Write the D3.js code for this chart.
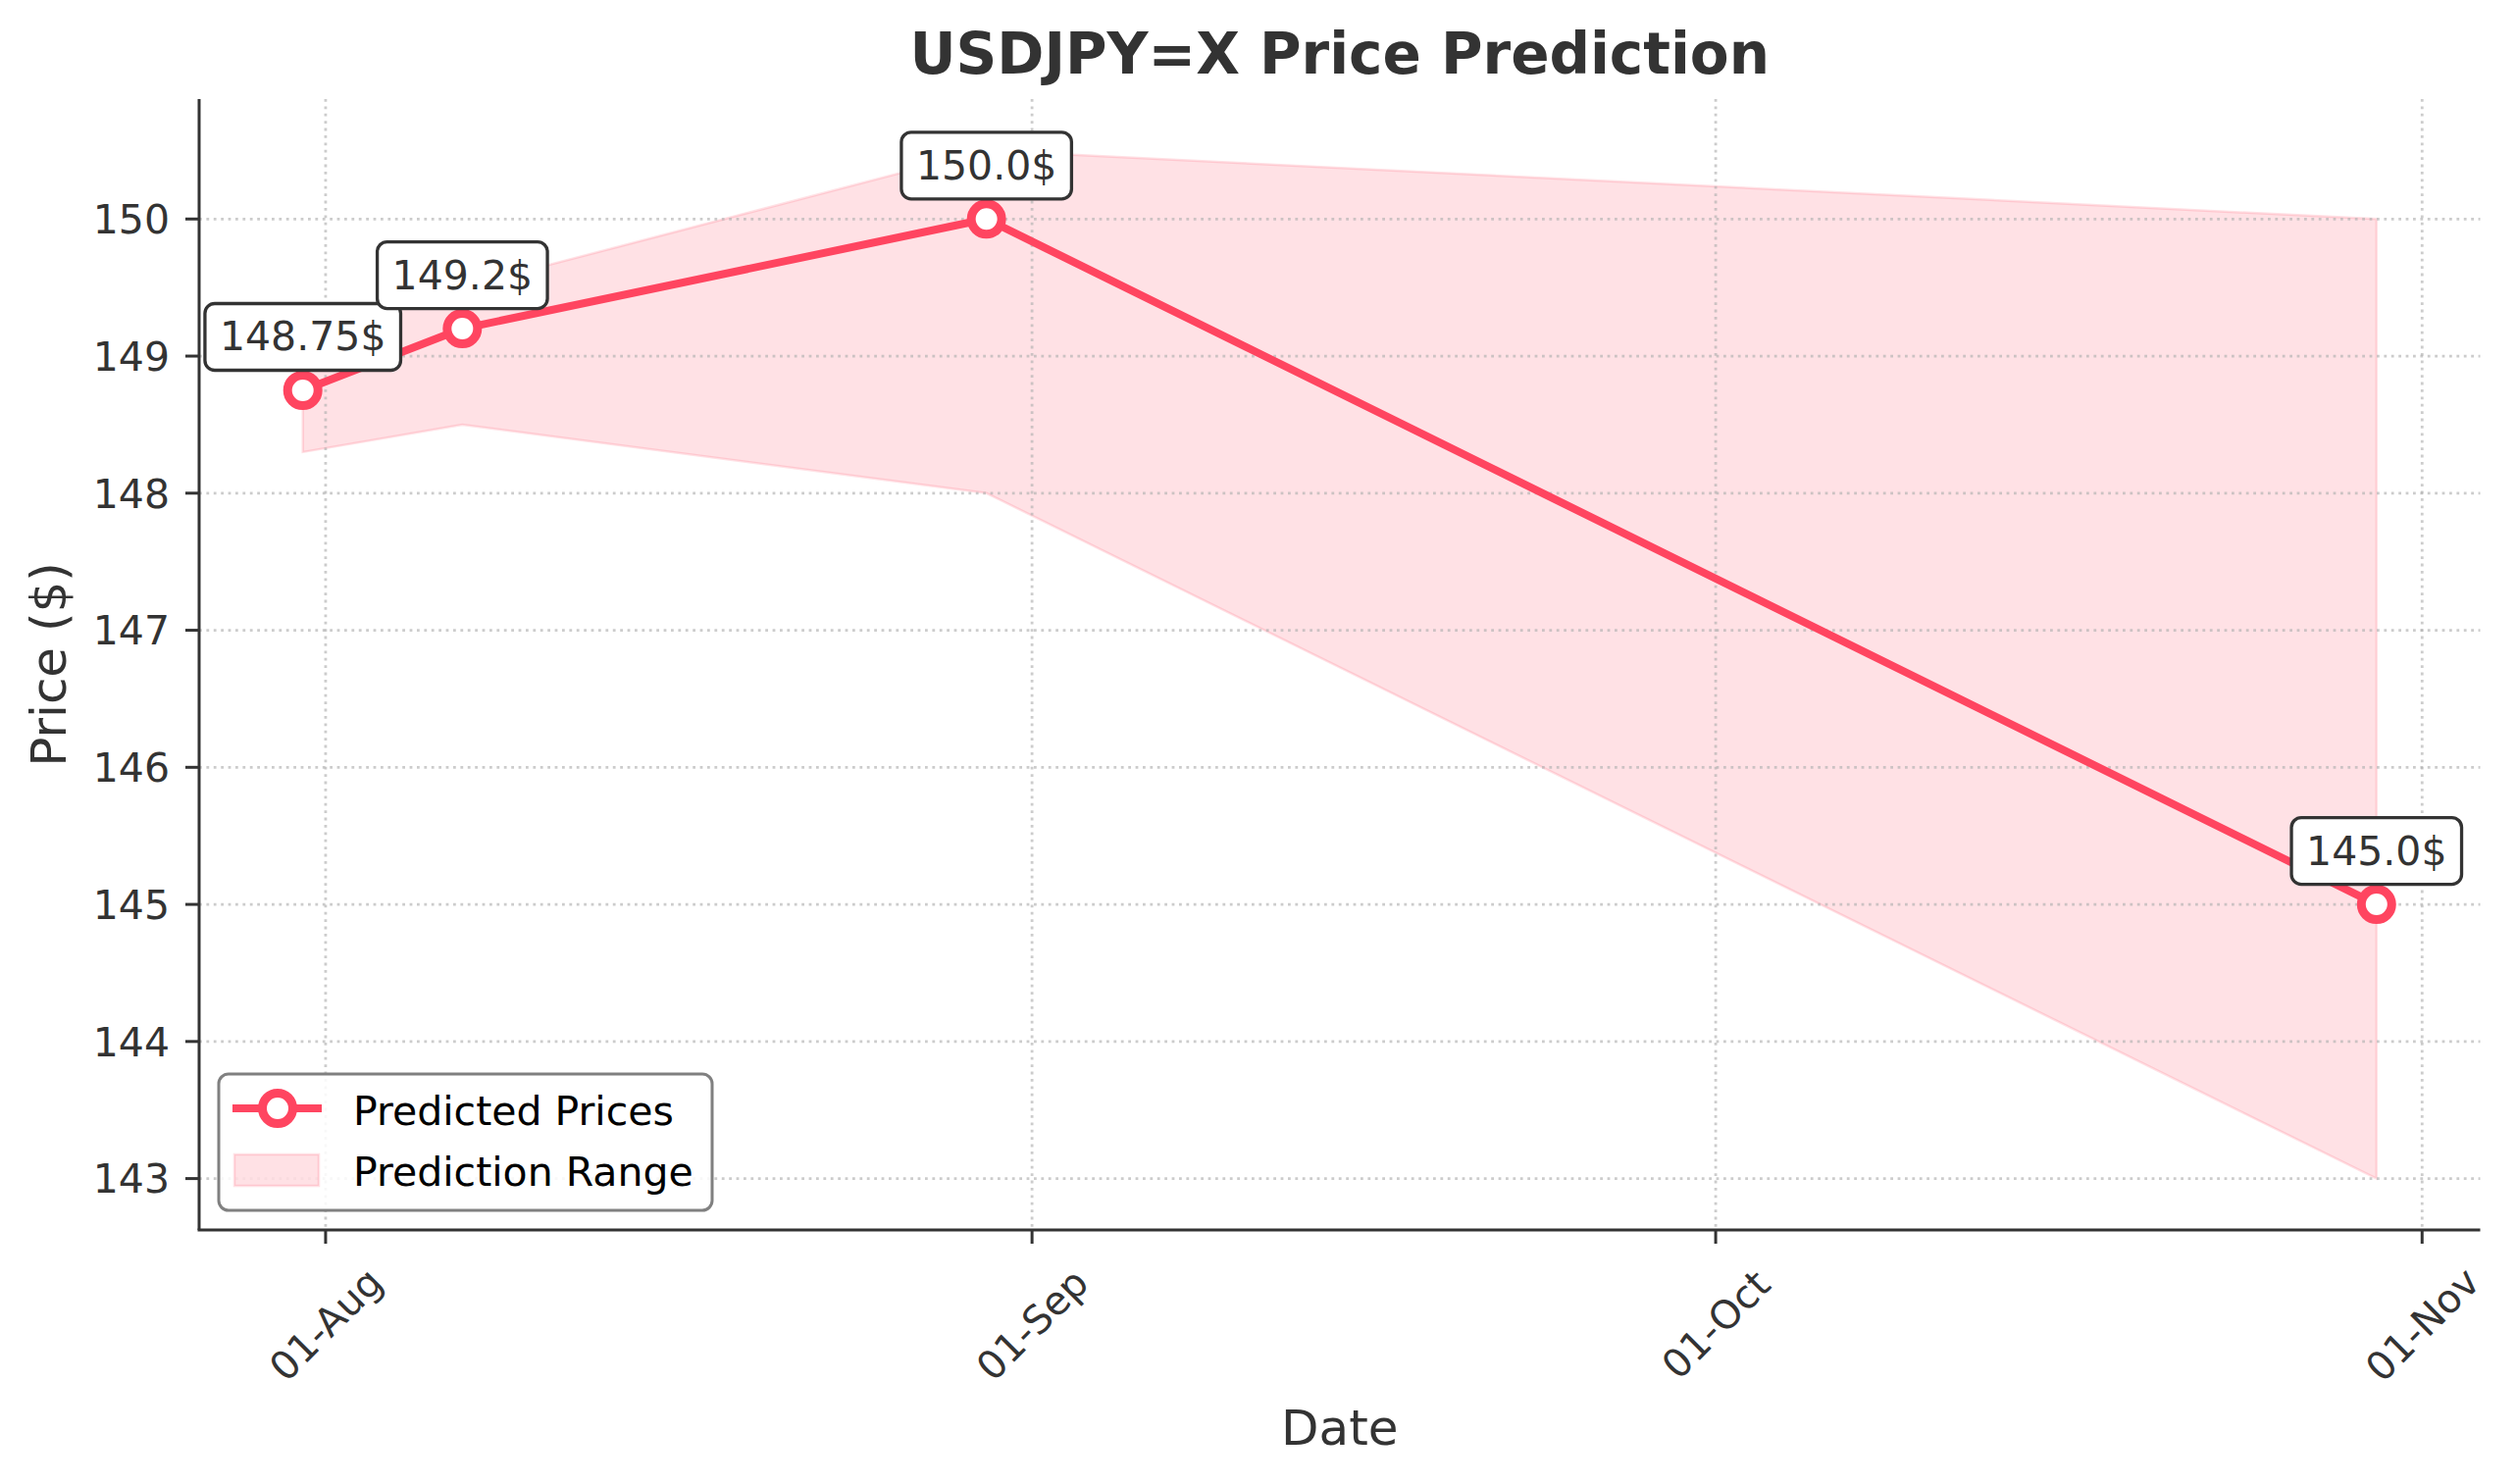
<!DOCTYPE html>
<html>
<head>
<meta charset="utf-8">
<script src="https://cdn.jsdelivr.net/npm/d3@7"></script>
<style>
  body { margin: 0; background: #fff; }
  text { font-family: "DejaVu Sans", sans-serif; }
</style>
</head>
<body>
<div id="chart"></div>
<script>
// chart values
var dates = ["2024-07-31", "2024-08-07", "2024-08-30", "2024-10-30"];
var predicted = [148.75, 149.2, 150.0, 145.0];
var lowerBound = [148.3, 148.5, 148.0, 143.0];
var upperBound = [149.2, 149.5, 150.5, 150.0];
var yTicks = [143, 144, 145, 146, 147, 148, 149, 150];
var legendLabels = ["Predicted Prices", "Prediction Range"];

var width = 2566, height = 1513;
var margin = { top: 101, right: 37.5, bottom: 259, left: 203 };
var lineColor = "#FF4560";
var textColor = "#333333";

var parse = d3.utcParse("%Y-%m-%d");
var data = dates.map(function (d, i) {
    return { date: parse(d), price: predicted[i], lo: lowerBound[i], hi: upperBound[i] };
});

var svg = d3.select("#chart").append("svg")
    .attr("width", width)
    .attr("height", height);

// matplotlib style 5% padding on both axes
var xExt = d3.extent(data, d => d.date);
var xPad = (xExt[1] - xExt[0]) * 0.05;
var x = d3.scaleUtc()
    .domain([new Date(+xExt[0] - xPad), new Date(+xExt[1] + xPad)])
    .range([margin.left, width - margin.right]);

var yMin = d3.min(lowerBound), yMax = d3.max(upperBound);
var yPad = (yMax - yMin) * 0.05;
var y = d3.scaleLinear()
    .domain([yMin - yPad, yMax + yPad])
    .range([height - margin.bottom, margin.top]);

var xTicks = x.ticks(d3.utcMonth.every(1));
var x0 = margin.left, x1 = width - margin.right;
var y0 = height - margin.bottom, y1 = margin.top;

// prediction range band
var band = d3.area()
    .x(d => x(d.date))
    .y0(d => y(d.lo))
    .y1(d => y(d.hi));

svg.append("path")
    .datum(data)
    .attr("d", band)
    .attr("fill", lineColor)
    .attr("fill-opacity", 0.16)
    .attr("stroke", lineColor)
    .attr("stroke-opacity", 0.16)
    .attr("stroke-width", 2.5);

// dotted grid
var grid = svg.append("g")
    .attr("stroke", "#b0b0b0")
    .attr("stroke-opacity", 0.65)
    .attr("stroke-width", 2.8)
    .attr("stroke-dasharray", "2.8,4.6");

grid.selectAll(".gx")
    .data(xTicks)
    .enter().append("line")
    .attr("x1", d => x(d)).attr("x2", d => x(d))
    .attr("y1", y1).attr("y2", y0);

grid.selectAll(".gy")
    .data(yTicks)
    .enter().append("line")
    .attr("x1", x0).attr("x2", x1)
    .attr("y1", d => y(d)).attr("y2", d => y(d));

// predicted price line
var line = d3.line()
    .x(d => x(d.date))
    .y(d => y(d.price));

svg.append("path")
    .datum(data)
    .attr("d", line)
    .attr("fill", "none")
    .attr("stroke", lineColor)
    .attr("stroke-width", 8)
    .attr("stroke-linejoin", "round");

svg.selectAll(".marker")
    .data(data)
    .enter().append("circle")
    .attr("cx", d => x(d.date))
    .attr("cy", d => y(d.price))
    .attr("r", 15.5)
    .attr("fill", "#fff")
    .attr("stroke", lineColor)
    .attr("stroke-width", 9);

// value annotations
function priceLabel(v) {
    return (Number.isInteger(v) ? v.toFixed(1) : String(v)) + "$";
}

var notes = svg.selectAll(".note")
    .data(data)
    .enter().append("g")
    .attr("transform", d => "translate(" + x(d.date) + "," + (y(d.price) - 40.5) + ")");

notes.append("text")
    .attr("text-anchor", "middle")
    .attr("font-size", 41)
    .attr("fill", textColor)
    .text(d => priceLabel(d.price));

notes.each(function () {
    var g = d3.select(this);
    var bb = g.select("text").node().getBBox();
    var padX = 15, padY = 11;
    g.insert("rect", "text")
        .attr("x", bb.x - padX)
        .attr("y", bb.y - padY + 1)
        .attr("width", bb.width + padX * 2)
        .attr("height", bb.height + padY * 2 - 2)
        .attr("rx", 10)
        .attr("fill", "#fff")
        .attr("stroke", textColor)
        .attr("stroke-width", 3.3);
});

// axes: spines, ticks and labels
var axes = svg.append("g");

axes.append("line")
    .attr("x1", x0).attr("x2", x0)
    .attr("y1", y1).attr("y2", y0)
    .attr("stroke", textColor).attr("stroke-width", 3);

axes.append("line")
    .attr("x1", x0 - 1.5).attr("x2", x1)
    .attr("y1", y0).attr("y2", y0)
    .attr("stroke", textColor).attr("stroke-width", 3);

axes.selectAll(".ty")
    .data(yTicks)
    .enter().append("line")
    .attr("x1", x0 - 14).attr("x2", x0)
    .attr("y1", d => y(d)).attr("y2", d => y(d))
    .attr("stroke", textColor).attr("stroke-width", 3);

axes.selectAll(".ly")
    .data(yTicks)
    .enter().append("text")
    .attr("x", x0 - 30)
    .attr("y", d => y(d))
    .attr("dy", "0.36em")
    .attr("text-anchor", "end")
    .attr("font-size", 41)
    .attr("fill", textColor)
    .text(d => d);

axes.selectAll(".tx")
    .data(xTicks)
    .enter().append("line")
    .attr("x1", d => x(d)).attr("x2", d => x(d))
    .attr("y1", y0).attr("y2", y0 + 14)
    .attr("stroke", textColor).attr("stroke-width", 3);

var fmt = d3.utcFormat("%d-%b");
axes.selectAll(".lx")
    .data(xTicks)
    .enter().append("text")
    .attr("transform", d => "translate(" + x(d) + "," + (y0 + 96) + ") rotate(-45)")
    .attr("dy", "0.36em")
    .attr("text-anchor", "middle")
    .attr("font-size", 40)
    .attr("fill", textColor)
    .text(d => fmt(d));

// axis titles
svg.append("text")
    .attr("x", (x0 + x1) / 2)
    .attr("y", 1473)
    .attr("text-anchor", "middle")
    .attr("font-size", 50)
    .attr("fill", textColor)
    .text("Date");

svg.append("text")
    .attr("transform", "translate(67," + ((y0 + y1) / 2) + ") rotate(-90)")
    .attr("text-anchor", "middle")
    .attr("font-size", 50)
    .attr("fill", textColor)
    .text("Price ($)");

svg.append("text")
    .attr("x", (x0 + x1) / 2)
    .attr("y", 75)
    .attr("text-anchor", "middle")
    .attr("font-size", 58)
    .attr("font-weight", "bold")
    .attr("fill", textColor)
    .text("USDJPY=X Price Prediction");

// legend
var legend = svg.append("g").attr("transform", "translate(223,1095)");

legend.append("rect")
    .attr("width", 503)
    .attr("height", 139)
    .attr("rx", 10)
    .attr("fill", "#fff")
    .attr("fill-opacity", 0.85)
    .attr("stroke", "#808080")
    .attr("stroke-width", 3);

legend.append("line")
    .attr("x1", 14).attr("x2", 105)
    .attr("y1", 35).attr("y2", 35)
    .attr("stroke", lineColor)
    .attr("stroke-width", 8);

legend.append("circle")
    .attr("cx", 60).attr("cy", 35)
    .attr("r", 15.5)
    .attr("fill", "#fff")
    .attr("stroke", lineColor)
    .attr("stroke-width", 9);

legend.append("rect")
    .attr("x", 16).attr("y", 82)
    .attr("width", 86).attr("height", 32)
    .attr("fill", lineColor)
    .attr("fill-opacity", 0.16)
    .attr("stroke", lineColor)
    .attr("stroke-opacity", 0.16)
    .attr("stroke-width", 2.5);

legend.selectAll(".lt")
    .data(legendLabels)
    .enter().append("text")
    .attr("x", 137)
    .attr("y", (d, i) => 51.5 + i * 62.5)
    .attr("font-size", 41)
    .attr("fill", "#000")
    .text(d => d);
</script>
</body>
</html>
